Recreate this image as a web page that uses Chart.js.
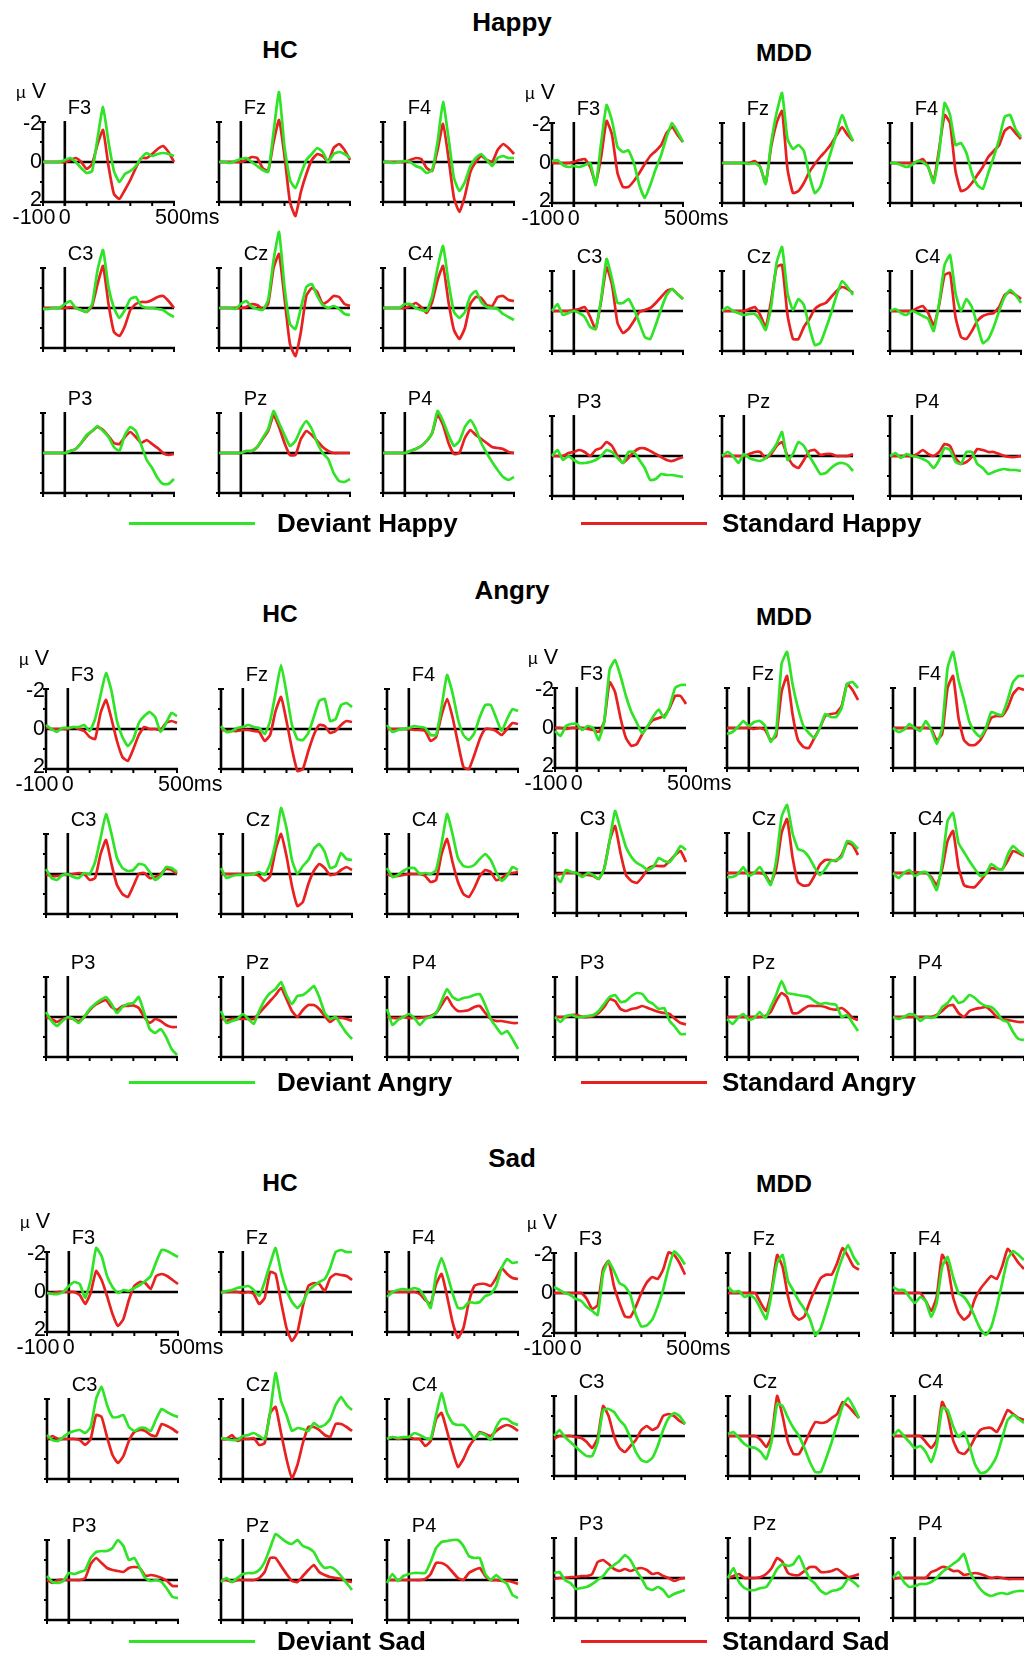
<!DOCTYPE html>
<html lang="en">
<head>
  <meta charset="UTF-8">
  <title>ERP waveforms: Happy, Angry, Sad</title>
  <script src="https://cdn.jsdelivr.net/npm/chart.js"></script>
  <style>
    body { margin: 0; background: #fff; }
    #fig { position: relative; width: 1024px; height: 1655px; overflow: hidden; font-family: "Liberation Sans", Arial, sans-serif; color: #000; }
    #fig canvas { position: absolute; }
    .t { position: absolute; white-space: nowrap; line-height: 1; }
    .title { font-weight: bold; font-size: 26px; }
    .grp { font-weight: bold; font-size: 24.5px; }
    .elec { font-size: 20px; }
    .tick { font-size: 21.5px; }
    .leg { font-weight: bold; font-size: 26px; }
    .legline { position: absolute; height: 3px; }
  </style>
</head>
<body>
  <div id="fig"></div>

  <script>
    // time axis (ms) and electrodes
    const times = [-100,-75,-50,-25,0,25,50,75,100,125,150,175,200,225,250,275,300,325,350,375,400,425,450,475,500];
    const electrodes = ['F3','Fz','F4','C3','Cz','C4','P3','Pz','P4'];
    const yTicks = [-2,-1,1,2];
    const xTicks = [-100,0,100,200,300,400,500];

    // amplitudes in µV, one row per electrode (F3 Fz F4 C3 Cz C4 P3 Pz P4)
    const happyHcDeviant = [
      [0,0,0,0,-0.1,-0.2,0,0.3,0.55,0.45,-1.2,-2.75,-1.0,0.45,1.0,0.6,0.45,0.2,-0.2,-0.45,-0.3,-0.4,-0.45,-0.4,-0.3],
      [0,0,0.05,-0.05,-0.15,-0.2,0,0.2,0.4,0.5,-1.5,-3.5,-0.75,0.9,1.3,0.6,-0.1,-0.4,-0.7,-0.5,0,-0.4,-0.5,-0.4,-0.2],
      [0,0,0.05,0,-0.05,0,0.2,0.3,0.55,0.4,-1.0,-3.0,-1.2,0.8,1.45,1.0,0.2,-0.2,-0.4,-0.1,0.2,-0.2,-0.3,-0.2,-0.2],
      [0.05,0.05,0,0,-0.2,-0.35,0,0.1,0.2,-0.2,-1.9,-2.9,-1.05,0,0.5,0.1,-0.45,-0.55,-0.1,0,0,0.05,0.1,0.3,0.45],
      [0,0,0,0.05,-0.2,-0.35,-0.05,0.05,0.1,-0.4,-2.4,-3.8,-1.05,0.8,1.05,0,-1.05,-1.2,-0.6,-0.15,0,-0.1,0.05,0.3,0.35],
      [0,0,0,0,-0.2,-0.2,0,0.1,0.15,-0.6,-2.0,-3.1,-1.3,0.2,0.5,0.2,-0.6,-0.85,-0.3,-0.05,0,0.05,0.3,0.45,0.6],
      [0,0,0,0,0,-0.1,-0.2,-0.5,-0.9,-1.1,-1.35,-1.1,-0.8,-0.3,-0.1,-0.9,-1.3,-1.1,-0.4,0.35,0.75,1.25,1.55,1.55,1.3],
      [0,0,0,0,0,-0.1,-0.1,-0.3,-0.75,-1.2,-2.1,-1.5,-0.9,-0.35,-0.6,-1.2,-1.6,-1.2,-0.5,0,0.3,1.0,1.4,1.45,1.3],
      [0,0,0,0,0,-0.1,-0.2,-0.35,-0.6,-1.0,-2.1,-1.6,-0.9,-0.35,-0.6,-1.3,-1.65,-1.2,-0.5,0,0.45,0.85,1.2,1.35,1.2]
    ];
    const happyHcStandard = [
      [0,0,0,0,0,-0.1,-0.2,0,0.35,0.1,-0.9,-1.6,0.2,1.6,1.85,1.4,0.9,0.3,-0.2,-0.2,-0.4,-0.65,-0.8,-0.5,0],
      [0,0,0,0,0,-0.1,-0.25,-0.2,0.3,0.45,-1.0,-2.1,-0.3,2.0,2.7,1.5,0.6,-0.1,-0.4,-0.3,0,-0.7,-0.9,-0.6,-0.1],
      [0,0,0,0,0,-0.1,-0.2,-0.15,0.3,0.45,-0.6,-1.9,-0.2,1.8,2.5,1.7,0.5,0,-0.3,-0.1,0,-0.6,-0.9,-0.7,-0.4],
      [0,0,0,0,0,-0.05,0,0.1,0.2,-0.1,-1.2,-2.1,-0.2,1.2,1.4,0.9,0.1,-0.2,-0.3,-0.3,-0.4,-0.55,-0.6,-0.35,0],
      [0,0,0,0,0,-0.05,-0.2,-0.15,0.05,-0.2,-2.0,-2.7,-0.5,1.8,2.4,1.2,-0.6,-1.0,-0.8,-0.2,-0.35,-0.6,-0.55,-0.2,-0.1],
      [0,0,0,0,0,-0.1,-0.25,-0.05,0.25,-0.3,-1.4,-2.1,-0.3,1.1,1.55,1.0,-0.2,-0.55,-0.5,-0.15,-0.1,-0.55,-0.6,-0.4,-0.35],
      [0,0,0,0,0,-0.1,-0.2,-0.5,-0.85,-1.1,-1.3,-1.15,-0.85,-0.5,-0.45,-0.8,-1.05,-0.8,-0.5,-0.65,-0.45,-0.25,0,0.1,0.05],
      [0,0,0,0,0,-0.1,-0.1,-0.3,-0.7,-1.1,-1.9,-1.3,-0.5,0.1,0.1,-0.7,-1.1,-0.9,-0.6,-0.3,-0.1,0,0,0,0],
      [0,0,0,0,0,-0.1,-0.2,-0.35,-0.6,-1.0,-1.9,-1.4,-0.5,0.05,0,-0.75,-1.15,-0.9,-0.7,-0.5,-0.3,-0.25,-0.2,-0.05,0]
    ];
    const happyMddDeviant = [
      [-0.1,-0.15,0.1,0.2,0.15,0.2,0.1,0,1.1,-1.0,-2.9,-2.1,-0.8,-0.55,-0.63,0,1.1,1.75,1.1,0.3,-0.4,-1.3,-2.0,-1.55,-1.05],
      [0,0,0,0,0,0.05,0,0.2,1.05,-1.0,-2.5,-3.5,-1.2,-0.7,-0.9,-0.6,0.6,1.5,1.2,0.3,-0.6,-1.5,-2.4,-1.7,-1.1],
      [0,0,0.1,0.2,0.1,-0.1,-0.05,0.2,1.0,-0.5,-3.0,-2.4,-0.9,-1.0,-0.5,0.5,1.1,1.3,0.5,-0.3,-1.2,-2.3,-2.4,-1.7,-1.3],
      [0,-0.35,0.2,0.1,0,0.1,0.3,0.8,0.9,-0.6,-2.6,-1.6,-0.4,-0.4,-0.6,-0.1,0.6,1.3,1.4,0.7,-0.1,-0.8,-1.1,-0.85,-0.6],
      [0,-0.2,0,0.1,0.2,0.15,0.15,0.45,0.95,-0.2,-2.4,-3.2,-0.9,-0.05,-0.6,-0.3,0.8,1.7,1.6,0.9,0.1,-0.8,-1.5,-1.2,-0.8],
      [0,-0.1,0.1,0.2,0,0.1,0.25,0.4,1.0,-0.4,-2.3,-2.8,-0.9,0,-0.6,-0.2,0.7,1.6,1.4,0.8,0,-0.7,-1.05,-0.8,-0.4],
      [0,-0.3,0.2,0,0.2,0.35,0.35,0.3,0.2,0,-0.3,-0.2,0.1,0.35,-0.2,-0.2,0.2,0.6,1.2,1.15,0.9,0.95,0.95,1.0,1.05],
      [0,-0.2,0,0.35,-0.1,0.1,0.2,0.25,0.1,-0.2,-0.6,-1.2,0.2,-0.1,-0.7,-0.5,0,0.45,0.9,0.85,0.6,0.4,0.35,0.45,0.75],
      [0,-0.15,0.1,-0.1,0,0.05,0.15,0.3,0.6,0.2,-0.4,-0.3,0.3,0.4,-0.2,-0.2,0.4,0.6,0.9,0.8,0.7,0.65,0.7,0.7,0.75]
    ];
    const happyMddStandard = [
      [0,0,0,0,-0.05,-0.15,-0.2,0.2,1.0,-0.3,-2.1,-1.4,0.5,1.2,1.2,0.9,0.5,0.05,-0.35,-0.6,-0.9,-1.5,-1.8,-1.4,-1.05],
      [0,0,0,0,0,0,-0.1,0.2,1.0,-0.8,-2.0,-2.6,0.3,1.5,1.4,1.0,0.45,0.05,-0.3,-0.6,-0.95,-1.4,-1.8,-1.4,-1.1],
      [0,0,0,0,0,-0.05,-0.2,0.2,0.9,-0.7,-2.4,-2.0,0.4,1.4,1.3,1.0,0.6,0.2,-0.3,-0.6,-0.9,-1.6,-1.8,-1.5,-1.2],
      [0,0,0,0,-0.05,-0.1,-0.2,0.3,0.9,-0.5,-2.2,-1.3,0.6,1.1,0.9,0.5,0.05,-0.05,-0.15,-0.4,-0.7,-1.0,-1.1,-0.85,-0.6],
      [0,0,0,0,0,-0.1,-0.2,0.2,0.8,-0.5,-2.2,-2.3,0.2,1.4,1.4,0.8,0.4,-0.1,-0.3,-0.4,-0.7,-1.0,-1.2,-1.1,-0.9],
      [0,0,0,0,0,-0.15,-0.25,0.1,0.7,-0.3,-1.8,-1.9,0.3,1.3,1.4,1.0,0.5,0.25,0.15,0.1,-0.2,-0.8,-0.95,-0.8,-0.6],
      [0,0,0,-0.15,-0.2,-0.3,-0.2,0,-0.3,-0.4,-0.7,-0.5,0,0.35,0.1,-0.2,-0.38,-0.38,-0.25,-0.1,0.05,0.2,0.25,0.15,0.05],
      [0,0,0,0,0,-0.1,-0.2,-0.2,0.1,-0.1,-0.5,-0.7,0,0.45,0.6,0.2,-0.25,-0.3,-0.05,-0.1,-0.1,0,0,0,-0.1],
      [0,0,0,0,0,-0.1,-0.3,-0.1,0,-0.2,-0.6,-0.5,0.1,0.4,0.3,0.05,-0.35,-0.3,-0.2,-0.2,-0.1,0,0.05,0.05,0]
    ];
    const angryHcDeviant = [
      [-0.2,0,0.15,-0.05,-0.05,-0.1,-0.1,-0.2,0.1,-0.5,-1.7,-2.8,-1.9,-0.4,0.4,0.85,0.5,-0.3,-0.65,-0.85,-0.6,0.15,-0.3,-0.8,-0.65],
      [-0.15,0.15,0.1,-0.05,-0.1,-0.2,-0.1,-0.05,0.25,-0.4,-1.8,-3.2,-1.8,-0.2,0.5,0.55,0.2,-0.6,-1.4,-1.5,-0.4,-0.5,-1.2,-1.3,-1.1],
      [-0.2,0.15,0.05,0,-0.05,-0.15,-0.1,-0.05,0.3,0.3,-1.1,-2.7,-1.8,-0.5,0.3,0.55,0.2,-0.6,-1.2,-1.2,-0.55,0.1,-0.5,-1.0,-0.9],
      [-0.25,0.2,0.3,0.05,0,0.15,0.2,-0.05,0,-0.6,-1.8,-3.0,-2.0,-0.8,-0.3,-0.15,-0.2,-0.5,-0.45,-0.1,0.3,0.1,-0.35,-0.3,-0.1],
      [-0.3,0.2,0.1,0.05,0.05,0.05,0,-0.1,0.05,-0.5,-1.6,-3.3,-2.3,-0.7,0,-0.4,-0.7,-1.25,-1.5,-1.1,-0.3,-0.4,-1.05,-0.75,-0.7],
      [-0.3,0.15,0.05,-0.15,-0.3,-0.3,0,-0.05,0,-0.2,-1.5,-3.0,-2.0,-0.8,-0.4,-0.35,-0.45,-0.75,-1.0,-0.7,-0.1,0.35,0.1,-0.35,-0.2],
      [-0.25,0.2,0.45,0.2,0,0.1,0.3,0,-0.4,-0.65,-0.85,-1.0,-0.65,-0.2,-0.5,-0.65,-0.7,-1.0,-0.2,0.6,0.8,0.6,1.0,1.6,1.9],
      [-0.3,0.3,0.2,0.1,-0.15,0.1,0.35,-0.3,-0.85,-1.2,-1.4,-1.75,-1.1,-0.65,-1.05,-1.1,-1.3,-1.55,-1.0,-0.2,0.1,0,0.4,0.8,1.1],
      [-0.4,0.4,0.15,0,-0.15,0.05,0.4,0.1,0,-0.2,-0.8,-1.4,-1.0,-0.85,-0.95,-1.0,-1.1,-1.15,-0.6,0.1,0.5,0.85,0.7,1.1,1.6]
    ];
    const angryHcStandard = [
      [-0.1,0,0,0,0,-0.1,0,0.1,0.4,0.5,-0.8,-1.45,-0.5,0.6,1.4,1.6,1.0,0.3,-0.1,0,0,0.05,-0.3,-0.4,-0.3],
      [0,0.1,0.1,0.1,0.05,0.05,0.1,0.15,0.6,0.3,-0.9,-1.6,-0.4,1.0,2.1,2.0,1.1,0.3,-0.2,-0.15,0.2,0.1,-0.2,-0.4,-0.35],
      [0,0,0,0,0,0.05,0.05,0.1,0.6,0.4,-0.7,-1.5,-0.6,0.7,1.9,2.0,1.3,0.5,0,0,0.1,0.3,0,-0.3,-0.25],
      [0,0.1,0.1,0.05,0.05,0,-0.05,0,0.3,0.2,-1.0,-1.7,-0.5,0.55,1.0,1.15,0.6,0,-0.05,0.2,0.15,0,-0.25,-0.2,0],
      [0,0,0,0,0,0,0,0.1,0.35,0.1,-1.2,-2.0,-0.9,0.6,1.6,1.4,0.5,-0.15,-0.5,-0.3,0.05,0,-0.2,-0.35,-0.2],
      [0,0.1,0.1,0.05,0,0,0,0.1,0.4,0.3,-1.0,-1.75,-0.6,0.4,1.0,1.15,0.7,0.1,-0.2,-0.1,0.3,0.2,0,-0.05,-0.1],
      [0,0.1,0.25,0.1,0.05,0.1,0.2,0,-0.35,-0.6,-0.75,-0.85,-0.5,-0.35,-0.55,-0.55,-0.58,-0.45,0,0.3,0.1,0.2,0.4,0.5,0.5],
      [0,0.2,0.1,0.1,0.1,0.1,0.1,-0.2,-0.5,-0.8,-1.1,-1.45,-0.9,-0.3,0,-0.35,-0.6,-0.6,-0.4,-0.05,0.25,0.05,0.05,0.1,0.2],
      [0,0.05,0.05,0,0.05,0.05,0.05,0,-0.05,-0.2,-0.6,-1.0,-0.55,-0.3,-0.3,-0.35,-0.5,-0.55,-0.2,0.1,0.2,0.2,0.25,0.3,0.3]
    ];
    const angryMddDeviant = [
      [0.15,0.4,-0.1,-0.2,-0.2,0.1,-0.1,0,0.6,-0.3,-2.9,-3.4,-2.6,-1.6,-0.8,-0.25,0.28,-0.1,-0.58,-0.92,-0.5,-1.08,-2.0,-2.15,-2.15],
      [0.3,0.2,-0.05,-0.35,-0.1,-0.3,-0.35,-0.1,0.7,0.2,-3.2,-3.8,-2.2,-1.0,-0.1,0.25,0.5,0,-0.7,-0.55,-0.55,-1.0,-2.2,-2.3,-2.0],
      [0,0.2,0.1,-0.2,0,0.15,-0.35,0.1,0.8,0,-3.0,-3.8,-2.4,-1.4,-0.3,0.2,0.45,0,-0.8,-0.7,-0.65,-1.4,-2.3,-2.6,-2.6],
      [0.1,0.45,-0.15,-0.05,0,0.2,0,0.1,0.3,-0.2,-1.6,-3.1,-2.2,-1.3,-0.8,-0.5,-0.35,-0.15,-0.3,-0.75,-0.6,-0.55,-0.9,-1.35,-1.15],
      [0.2,0.2,0.05,-0.3,0.15,0,-0.3,0.15,0.6,-0.6,-2.8,-3.4,-2.0,-1.2,-1.1,-0.8,-0.3,0.1,-0.2,-0.6,-0.65,-0.8,-1.6,-1.5,-1.2],
      [0,0.25,0,-0.15,0.15,0,-0.05,0.3,0.85,-0.5,-2.6,-3.0,-1.5,-1.05,-0.6,-0.2,0.15,0.05,-0.45,-0.25,-0.15,-0.9,-1.35,-1.1,-0.9],
      [0,0.25,-0.05,-0.1,0,0,-0.05,-0.1,-0.3,-0.65,-1.0,-1.1,-0.75,-0.8,-1.05,-1.2,-1.15,-0.8,-0.65,-0.4,-0.45,0.2,0.5,0.85,0.85],
      [0.1,0.35,0.05,-0.15,0.15,0.05,-0.25,0.05,-0.5,-1.1,-1.8,-1.2,-1.15,-1.1,-1.05,-1.0,-0.8,-0.65,-0.7,-0.65,-0.6,0,-0.1,0.3,0.7],
      [0,0.1,0,-0.15,-0.1,0.2,0,0.05,-0.05,-0.5,-0.7,-1.05,-0.7,-0.8,-1.1,-0.95,-0.7,-0.55,-0.5,-0.25,0.15,0.25,0.75,1.1,1.15]
    ];
    const angryMddStandard = [
      [0,0,0.05,0,0,0,0.05,0.1,0.2,-0.3,-2.3,-1.8,-0.5,0.5,0.9,0.8,0.3,-0.1,-0.4,-0.5,-0.6,-1.0,-1.6,-1.6,-1.2],
      [0,0,0,0,0,0.05,0,0.1,0.6,0.4,-1.8,-2.6,-0.7,0.6,0.95,1.0,0.5,0,-0.6,-0.7,-0.75,-1.1,-2.2,-1.9,-1.4],
      [0,0,0,0,0,0,0,0.05,0.6,0.3,-2.0,-2.6,-0.5,0.6,0.85,0.85,0.6,0.1,-0.5,-0.6,-0.6,-1.0,-1.7,-2.0,-1.9],
      [0.1,0.05,0,0,0,0.1,0.1,0.15,0.3,-0.2,-1.6,-2.35,-1.0,0.1,0.4,0.5,0.2,-0.2,-0.35,-0.35,-0.35,-0.6,-0.9,-1.1,-0.55],
      [0,0,0,0,0,0,0,0.1,0.5,-0.2,-2.0,-2.7,-0.8,0.45,0.63,0.6,0.15,-0.4,-0.65,-0.65,-0.6,-0.9,-1.5,-1.4,-0.9],
      [0,0,0,0,-0.05,0,0,0.2,0.6,-0.2,-1.6,-2.1,-0.3,0.6,0.7,0.7,0.4,0.05,-0.25,-0.2,-0.2,-0.6,-1.1,-1.0,-0.85],
      [0,0,0,-0.1,-0.1,0,0,-0.05,-0.2,-0.5,-0.9,-0.8,-0.4,-0.3,-0.4,-0.45,-0.55,-0.45,-0.35,-0.25,-0.2,-0.15,0.1,0.3,0.37],
      [0,0,0,0,0,0,0,-0.05,-0.25,-0.8,-1.2,-1.0,-0.2,-0.2,-0.4,-0.55,-0.55,-0.55,-0.5,-0.4,-0.37,-0.45,-0.25,0.05,0.15],
      [0,0,0,0,0,0,0,0,-0.1,-0.3,-0.55,-0.6,-0.2,0,-0.3,-0.4,-0.45,-0.5,-0.3,0,0.1,0.15,0.2,0.25,0.25]
    ];
    const sadHcDeviant = [
      [0.05,0.1,0.1,0,-0.3,-0.5,-0.4,0.3,-0.6,-2.2,-1.8,-0.8,-0.25,0.05,-0.1,-0.05,-0.2,-0.35,-0.55,-0.8,-1.5,-2.1,-2.05,-1.9,-1.75],
      [0.05,-0.05,-0.1,-0.2,-0.25,-0.3,-0.1,0.2,-0.5,-1.4,-2.2,-1.0,-0.1,0.5,0.8,0.5,-0.05,-0.3,-0.5,-0.65,-1.2,-2.0,-2.1,-2.0,-2.0],
      [0.25,0,-0.1,-0.15,-0.1,-0.2,-0.1,0.3,0.8,-0.9,-1.7,-0.9,0.05,0.8,0.8,0.5,0.55,0.5,0.2,0.1,-0.3,-1.2,-1.65,-1.45,-1.5],
      [-0.2,0.05,0.1,-0.1,-0.3,-0.4,-0.45,-0.3,-0.6,-2.0,-2.6,-1.7,-1.1,-1.1,-1.2,-0.6,-0.4,-0.55,-0.55,-0.4,-1.0,-1.5,-1.35,-1.2,-1.1],
      [-0.05,0,0.05,0.05,-0.15,-0.2,-0.3,-0.15,0,-1.3,-3.3,-1.9,-1.2,-0.4,-0.55,-0.5,-0.4,-0.8,-0.6,-0.7,-1.0,-1.7,-2.1,-1.7,-1.45],
      [0,-0.1,-0.05,-0.1,-0.1,-0.3,-0.2,-0.05,0,-1.2,-2.3,-1.3,-0.8,-0.7,-0.7,-0.4,0,-0.3,-0.2,0.05,-0.6,-1.0,-1.0,-0.8,-0.7],
      [-0.2,0.1,0.15,0.05,-0.35,-0.3,-0.4,-0.5,-1.1,-1.4,-1.45,-1.45,-1.6,-2.0,-1.7,-1.0,-1.1,-0.6,-0.1,0.05,0,0.1,0.45,0.85,0.9],
      [0.1,-0.1,0.1,-0.1,-0.3,-0.35,-0.35,-0.5,-0.9,-1.6,-2.3,-2.1,-1.9,-1.8,-2.0,-1.7,-1.6,-1.4,-0.9,-0.6,-0.65,-0.5,-0.2,0.15,0.5],
      [0.15,-0.3,0.05,-0.2,-0.3,-0.35,-0.35,-0.35,-0.9,-1.6,-1.9,-1.95,-2.0,-2.0,-1.7,-1.2,-1.1,-1.1,-0.3,0,-0.25,0,0.2,0.75,0.9]
    ];
    const sadHcStandard = [
      [0.05,0.05,0,0,0,0,0.15,0.6,0.05,-1.05,-0.6,0.2,1.1,1.7,1.35,0.4,-0.3,-0.5,-0.45,-0.15,-0.8,-0.9,-0.8,-0.6,-0.4],
      [0,0,0,0,0.05,0,0.1,0.6,0.3,-1.0,-0.9,0.5,1.8,2.45,2.0,0.7,-0.3,-0.45,-0.4,-0.05,-0.7,-0.9,-0.85,-0.8,-0.6],
      [0,0,0,0,0,0,0.1,0.4,0.6,-0.4,-0.9,0.2,1.5,2.3,1.8,0.5,-0.3,-0.4,-0.4,-0.3,-0.7,-1.2,-0.9,-0.7,-0.65],
      [0,-0.15,0,0,0,0,0.05,0.3,0,-1.2,-1.1,-0.1,0.8,1.2,0.85,0.1,-0.35,-0.45,-0.4,-0.2,-0.15,-0.75,-0.65,-0.5,-0.3],
      [0,0,-0.2,0.1,0,0,-0.05,0.3,0.2,-1.3,-1.6,-0.3,1.0,1.95,1.3,0.2,-0.6,-0.6,-0.45,-0.2,-0.1,-0.75,-0.75,-0.6,-0.4],
      [0,-0.1,0,-0.05,-0.1,0,0,0.35,0.1,-1.0,-1.3,-0.4,0.6,1.4,1.0,0.4,0,-0.35,-0.25,-0.15,-0.4,-0.6,-0.7,-0.6,-0.4],
      [0,0.15,0,0,0,0,0,-0.1,-0.8,-1.1,-0.85,-0.6,-0.5,-0.45,-0.4,-0.6,-0.65,-0.6,-0.2,-0.25,-0.2,-0.1,0.05,0.3,0.3],
      [0,0,0.1,0,0,0,0,-0.1,-0.4,-1.1,-1.1,-0.7,-0.3,0.05,0.1,-0.2,-0.5,-0.75,-0.4,-0.25,-0.15,-0.1,-0.05,0.05,0.1],
      [0,0,0,0,0,0,0,-0.05,-0.3,-0.85,-0.85,-0.7,-0.4,-0.1,0,-0.35,-0.5,-0.6,-0.2,0,0,0.05,0.05,0.1,0.2]
    ];
    const sadMddDeviant = [
      [-0.3,-0.15,0,0.1,0.3,0.4,0.7,0.9,1.1,-1.0,-1.6,-1.1,-0.5,-0.33,0.1,1.1,1.67,1.62,1.33,0.67,-0.17,-1.25,-2.08,-1.83,-1.42],
      [-0.3,-0.05,-0.1,0.2,0.1,0.3,0.8,1.3,0,-1.5,-1.9,-0.6,-0.1,0.4,0.8,1.3,2.1,1.75,0.9,0,-1.0,-1.8,-2.4,-1.8,-1.4],
      [-0.3,-0.15,-0.15,0.2,0.5,0.2,0.4,1.2,0.5,-1.3,-1.8,-0.8,0,0.2,0.6,1.2,1.8,2.1,1.7,0.7,-0.5,-1.7,-2.1,-1.9,-1.65],
      [0,-0.3,0.05,0.3,0.55,0.8,1.0,1.0,0.3,-1.3,-1.35,-1.2,-0.8,-0.5,0.1,0.8,1.2,1.3,1.1,0.5,-0.3,-0.9,-1.15,-1.0,-0.6],
      [-0.1,-0.2,0.1,0.4,0.55,0.6,0.8,1.15,0.25,-1.6,-1.5,-0.9,-0.4,0,0.6,1.3,1.8,1.8,1.1,0.3,-0.6,-1.5,-1.9,-1.45,-0.9],
      [0,-0.3,0,0.3,0.6,0.5,0.8,1.3,0.5,-1.4,-1.3,-0.5,0.05,-0.2,0.5,1.4,1.85,1.8,1.5,1.0,0.1,-0.8,-1.05,-0.85,-0.65],
      [-0.25,-0.3,0.1,0.25,0.55,0.5,0.45,0.3,0.1,-0.1,-0.45,-0.65,-0.85,-1.15,-0.9,-0.4,0,0.5,0.6,0.45,0.6,0.95,0.8,0.7,0.6],
      [0,-0.5,0.2,0.5,0.6,0.6,0.5,0.45,0.05,-0.45,-0.7,-0.6,-0.7,-1.1,-0.5,0.05,0.3,0.65,0.8,0.65,0.6,0.45,0.05,0.2,0.45],
      [0,-0.3,0.2,0.45,0.4,0.3,0.3,0.2,0,-0.3,-0.5,-0.7,-0.9,-1.2,-0.35,0.15,0.55,0.8,0.9,0.8,0.75,0.8,0.7,0.65,0.65]
    ];
    const sadMddStandard = [
      [0,0,0,0,0,0,0.3,0.8,0.6,-1.2,-1.6,-0.33,0.5,1.17,1.2,0.67,0,-0.53,-0.8,-0.7,-1.17,-2.03,-1.9,-1.5,-0.92],
      [0,0,0,0,0,0,0.5,0.9,-0.15,-1.9,-1.3,0.17,1.08,1.33,1.17,0.42,-0.2,-0.75,-0.92,-0.92,-1.5,-2.25,-1.83,-1.33,-1.17],
      [0,0,0,0,0,0,0.4,0.9,0.2,-1.9,-1.4,0.2,1.0,1.33,1.1,0.3,-0.2,-0.55,-0.85,-0.7,-1.33,-2.2,-1.9,-1.5,-1.2],
      [0.15,0,0,0,0.05,0.1,0.3,0.6,0.1,-1.5,-1.0,0,0.6,0.8,0.5,0.2,-0.3,-0.5,-0.3,-0.45,-1.0,-1.1,-1.0,-0.75,-0.6],
      [0,0,0,0,0,0,0.2,0.55,0,-2.0,-1.0,0.3,0.9,0.9,0.4,-0.2,-0.7,-0.65,-0.7,-0.9,-1.1,-1.7,-1.5,-1.2,-0.9],
      [0,0,0,0,0,0,0.3,0.6,0.2,-1.7,-1.1,0.2,0.8,0.9,0.6,0.1,-0.3,-0.4,-0.4,-0.2,-0.7,-1.3,-1.1,-0.9,-0.8],
      [0.05,0,0,-0.05,-0.05,-0.1,-0.1,-0.2,-0.8,-0.9,-0.7,-0.45,-0.35,-0.45,-0.35,-0.45,-0.5,-0.4,-0.2,-0.25,-0.1,0,0.15,0.05,0],
      [0,-0.1,-0.2,0,0,0,-0.05,-0.2,-0.5,-1.0,-0.8,-0.25,-0.15,-0.15,-0.35,-0.55,-0.55,-0.3,-0.3,-0.35,-0.45,-0.25,-0.05,-0.1,-0.2],
      [0.05,0,0,0,0,0,0,-0.3,-0.4,-0.55,-0.5,-0.35,-0.35,-0.15,-0.2,-0.25,-0.2,-0.1,0,-0.05,0,0.05,0.05,0.05,0.05]
    ];

    // page layout (pixel positions of each panel's axes: left = -100 ms, top = -2 µV)
    const GREEN = '#2fe326';
    const RED = '#e82020';
    const SPAN = 131, HALF = 40, PXUV = 20;
    const PADL = 6, PADR = 8, PADT = 44, PADB = 24;

    const sections = [
      { emotion: 'Happy', titleY: 22, grpY: [50, 53], legendY: 523,
        hcCols: [43, 219, 383], mddCols: [552, 722, 890], hcRows: [122, 268, 413], mddRows: [123, 271, 416],
        hc: [happyHcDeviant, happyHcStandard], mdd: [happyMddDeviant, happyMddStandard] },
      { emotion: 'Angry', titleY: 590, grpY: [614, 617], legendY: 1082,
        hcCols: [46, 221, 387], mddCols: [555, 727, 893], hcRows: [689, 834, 977], mddRows: [688, 833, 977],
        hc: [angryHcDeviant, angryHcStandard], mdd: [angryMddDeviant, angryMddStandard] },
      { emotion: 'Sad', titleY: 1158, grpY: [1183, 1184], legendY: 1641,
        hcCols: [47, 221, 387], mddCols: [554, 728, 893], hcRows: [1252, 1399, 1540], mddRows: [1253, 1396, 1538],
        hc: [sadHcDeviant, sadHcStandard], mdd: [sadMddDeviant, sadMddStandard] }
    ];

    const fig = document.getElementById('fig');

    function addText(txt, cls, x, y, align) {
      const d = document.createElement('div');
      d.className = 't ' + cls;
      d.innerHTML = txt;
      d.style.left = x + 'px';
      d.style.top = y + 'px';
      const tx = align === 'right' ? '-100%' : align === 'center' ? '-50%' : '0';
      d.style.transform = 'translate(' + tx + ',-50%)';
      fig.appendChild(d);
      return d;
    }

    // axes of one ERP panel, drawn from the chart's own scales
    const erpAxes = {
      id: 'erpAxes',
      beforeDatasetsDraw(chart) {
        const { ctx } = chart;
        const x = chart.scales.x, y = chart.scales.y;
        const x0 = x.getPixelForValue(-100), x1 = x.getPixelForValue(500), xz = x.getPixelForValue(0);
        const yT = y.getPixelForValue(-2), yB = y.getPixelForValue(2), yz = y.getPixelForValue(0);
        ctx.save();
        ctx.strokeStyle = '#000';
        ctx.lineWidth = 2.6;
        ctx.beginPath();
        ctx.moveTo(x0, yT - 1); ctx.lineTo(x0, yB + 1);
        ctx.moveTo(x0, yB); ctx.lineTo(x1 + 1, yB);
        ctx.moveTo(xz, yT - 1); ctx.lineTo(xz, yB + 4);
        ctx.moveTo(x0, yz); ctx.lineTo(x1, yz);
        ctx.stroke();
        ctx.lineWidth = 2;
        ctx.beginPath();
        yTicks.forEach(v => {
          const p = y.getPixelForValue(v);
          ctx.moveTo(x0 - 3, p);
          ctx.lineTo(Math.abs(v) === 2 ? x0 + 3 : x0, p);
        });
        xTicks.forEach(t => {
          const p = x.getPixelForValue(t);
          ctx.moveTo(p, yB);
          ctx.lineTo(p, yB + 4);
        });
        ctx.stroke();
        ctx.restore();
      }
    };

    function addPanel(left, top, dev, std) {
      const c = document.createElement('canvas');
      const w = SPAN + PADL + PADR, h = 2 * HALF + PADT + PADB;
      c.width = w; c.height = h;
      c.style.left = (left - PADL) + 'px';
      c.style.top = (top - PADT) + 'px';
      fig.appendChild(c);
      const pts = arr => times.map((t, i) => ({ x: t, y: arr[i] }));
      new Chart(c, {
        type: 'line',
        data: {
          datasets: [
            { data: pts(dev), borderColor: GREEN, clip: false },
            { data: pts(std), borderColor: RED, clip: false }
          ]
        },
        options: {
          responsive: false,
          animation: false,
          events: [],
          layout: { padding: { left: PADL, right: PADR, top: 0, bottom: 0 } },
          elements: { point: { radius: 0 }, line: { borderWidth: 2.7, tension: 0.15 } },
          plugins: { legend: { display: false }, tooltip: { enabled: false } },
          scales: {
            x: { type: 'linear', min: -100, max: 500, display: false },
            y: { min: -2 - PADT / PXUV, max: 2 + PADB / PXUV, reverse: true, display: false }
          }
        },
        plugins: [erpAxes]
      });
    }

    function addGroup(cols, rows, dev, std) {
      electrodes.forEach((name, k) => {
        const left = cols[k % 3], top = rows[Math.floor(k / 3)];
        const zeroX = left + SPAN / 6;
        addPanel(left, top, dev[k], std[k]);
        addText(name, 'elec', zeroX + 3, top - 15, 'left');
        if (k === 0) {
          addText('<span style="font-size:17px">&micro;</span> V', 'tick', left - 27, top - 30, 'left');
          addText('-2', 'tick', left - 1, top + 2, 'right');
          addText('0', 'tick', left - 1, top + HALF, 'right');
          addText('2', 'tick', left - 1, top + 2 * HALF - 2, 'right');
          addText('-100', 'tick', left - 9, top + 96, 'center');
          addText('0', 'tick', zeroX, top + 96, 'center');
          addText('500ms', 'tick', left + SPAN - 19, top + 96, 'left');
        }
      });
    }

    sections.forEach(s => {
      addText(s.emotion, 'title', 512, s.titleY, 'center');
      addText('HC', 'grp', 280, s.grpY[0], 'center');
      addText('MDD', 'grp', 784, s.grpY[1], 'center');
      addGroup(s.hcCols, s.hcRows, s.hc[0], s.hc[1]);
      addGroup(s.mddCols, s.mddRows, s.mdd[0], s.mdd[1]);

      const g = document.createElement('div');
      g.className = 'legline';
      g.style.cssText = 'left:129px;width:126px;top:' + (s.legendY - 1.5) + 'px;background:' + GREEN;
      fig.appendChild(g);
      addText('Deviant ' + s.emotion, 'leg', 277, s.legendY, 'left');
      const r = document.createElement('div');
      r.className = 'legline';
      r.style.cssText = 'left:581px;width:126px;top:' + (s.legendY - 1.5) + 'px;background:' + RED;
      fig.appendChild(r);
      addText('Standard ' + s.emotion, 'leg', 722, s.legendY, 'left');
    });
  </script>
</body>
</html>
